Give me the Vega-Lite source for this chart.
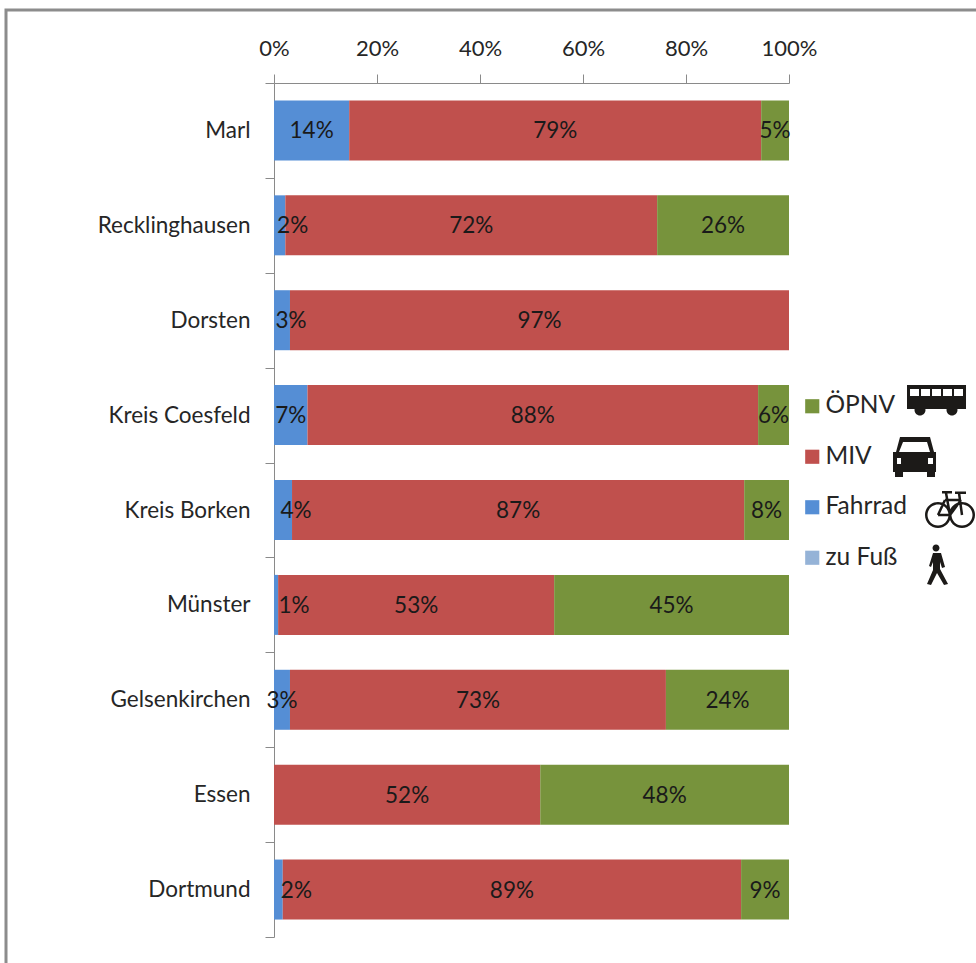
{"$schema":"https://vega.github.io/schema/vega-lite/v6.json","width":975,"height":958,"autosize":{"type":"none"},"padding":{"left":6,"top":10,"right":0,"bottom":0},"background":"white","view":{"stroke":"#8c8c8c","strokeWidth":3,"fill":"white"},"resolve":{"scale":{"y":"independent"}},"layer":[{"data":{"values":[{"city":"Marl","mode":"Fahrrad","pct":14.6,"label":"14%"},{"city":"Marl","mode":"MIV","pct":80,"label":"79%"},{"city":"Marl","mode":"ÖPNV","pct":5.4,"label":"5%"},{"city":"Recklinghausen","mode":"Fahrrad","pct":2.2,"label":"2%"},{"city":"Recklinghausen","mode":"MIV","pct":72.2,"label":"72%"},{"city":"Recklinghausen","mode":"ÖPNV","pct":25.6,"label":"26%"},{"city":"Dorsten","mode":"Fahrrad","pct":3.1,"label":"3%"},{"city":"Dorsten","mode":"MIV","pct":96.9,"label":"97%"},{"city":"Kreis Coesfeld","mode":"Fahrrad","pct":6.5,"label":"7%"},{"city":"Kreis Coesfeld","mode":"MIV","pct":87.5,"label":"88%"},{"city":"Kreis Coesfeld","mode":"ÖPNV","pct":6,"label":"6%"},{"city":"Kreis Borken","mode":"Fahrrad","pct":3.5,"label":"4%"},{"city":"Kreis Borken","mode":"MIV","pct":87.8,"label":"87%"},{"city":"Kreis Borken","mode":"ÖPNV","pct":8.7,"label":"8%"},{"city":"Münster","mode":"Fahrrad","pct":0.8,"label":"1%"},{"city":"Münster","mode":"MIV","pct":53.6,"label":"53%"},{"city":"Münster","mode":"ÖPNV","pct":45.6,"label":"45%"},{"city":"Gelsenkirchen","mode":"Fahrrad","pct":3.1,"label":"3%"},{"city":"Gelsenkirchen","mode":"MIV","pct":73,"label":"73%"},{"city":"Gelsenkirchen","mode":"ÖPNV","pct":23.9,"label":"24%"},{"city":"Essen","mode":"MIV","pct":51.7,"label":"52%"},{"city":"Essen","mode":"ÖPNV","pct":48.3,"label":"48%"},{"city":"Dortmund","mode":"Fahrrad","pct":1.7,"label":"2%"},{"city":"Dortmund","mode":"MIV","pct":89,"label":"89%"},{"city":"Dortmund","mode":"ÖPNV","pct":9.3,"label":"9%"}]},"transform":[{"stack":"pct","groupby":["city"],"sort":[{"field":"mode","order":"ascending"}],"as":["x0","x1"]},{"calculate":"(datum.x0+datum.x1)/2","as":"mid"}],"encoding":{"y":{"field":"city","type":"nominal","scale":{"type":"band","domain":["Marl","Recklinghausen","Dorsten","Kreis Coesfeld","Kreis Borken","Münster","Gelsenkirchen","Essen","Dortmund"],"range":[73,927],"paddingInner":0,"paddingOuter":0},"axis":{"orient":"left","offset":-268,"title":null,"tickBand":"extent","tickSize":9,"tickColor":"#8a8a8a","domainColor":"#8a8a8a","labelFont":"Lato","labelFontSize":22.5,"labelColor":"#262626","labelPadding":15,"grid":false}}},"layer":[{"mark":{"type":"bar","height":60},"encoding":{"x":{"field":"x0","type":"quantitative","scale":{"domain":[0,100],"range":[268,783],"nice":false},"axis":{"orient":"top","offset":-73,"title":null,"values":[0,20,40,60,80,100],"labelExpr":"datum.value + '%'","labelFlush":false,"labelOverlap":false,"tickSize":9,"tickColor":"#8a8a8a","domainColor":"#8a8a8a","labelFont":"Lato","labelFontSize":22,"labelColor":"#262626","labelPadding":14,"grid":false}},"x2":{"field":"x1"},"color":{"field":"mode","type":"nominal","scale":{"domain":["ÖPNV","MIV","Fahrrad","zu Fuß"],"range":["#77933c","#c0504d","#558ed5","#95b3d7"]},"legend":{"title":null,"orient":"none","legendX":794,"legendY":384,"symbolType":"square","symbolSize":200,"symbolStrokeWidth":0,"symbolOpacity":1,"labelFont":"Lato","labelFontSize":24.5,"labelColor":"#262626","labelOffset":1,"rowPadding":25.5}}}},{"transform":[{"filter":"!(datum.mode==='Fahrrad' && indexof(['Recklinghausen','Kreis Borken','Dorsten','Münster','Dortmund'],datum.city)>=0)"}],"mark":{"type":"text","font":"Lato","fontSize":22.5,"color":"#1a1a1a","dy":1},"encoding":{"x":{"field":"mid","type":"quantitative"},"text":{"field":"label"}}},{"transform":[{"filter":"datum.mode==='Fahrrad' && indexof(['Recklinghausen','Kreis Borken'],datum.city)>=0"}],"mark":{"type":"text","font":"Lato","fontSize":22.5,"color":"#1a1a1a","dy":1,"dx":13},"encoding":{"x":{"field":"mid","type":"quantitative"},"text":{"field":"label"}}},{"transform":[{"filter":"datum.mode==='Fahrrad' && datum.city==='Dorsten'"}],"mark":{"type":"text","font":"Lato","fontSize":22.5,"color":"#1a1a1a","dy":1,"dx":9},"encoding":{"x":{"field":"mid","type":"quantitative"},"text":{"field":"label"}}},{"transform":[{"filter":"datum.mode==='Fahrrad' && indexof(['Münster','Dortmund'],datum.city)>=0"}],"mark":{"type":"text","font":"Lato","fontSize":22.5,"color":"#1a1a1a","dy":1,"dx":18},"encoding":{"x":{"field":"mid","type":"quantitative"},"text":{"field":"label"}}}]},{"data":{"values":[{"icon":"Bus"},{"icon":"Auto"},{"icon":"Rad"},{"icon":"Fußgänger"}]},"mark":{"type":"point","filled":true,"opacity":1,"color":"#1c1a18","size":4},"encoding":{"x":{"datum":128.74},"y":{"field":"icon","type":"nominal","axis":null,"scale":{"type":"point","domain":["Bus","Auto","Rad","Fußgänger"],"range":[390,555],"padding":0}},"shape":{"field":"icon","type":"nominal","legend":null,"scale":{"domain":["Bus","Auto","Rad","Fußgänger"],"range":["M-30 -15 L29 -15 L29 9 L-30 9Z M-27 -11 L-27 -4 L-18 -4 L-18 -11Z M-16 -11 L-16 -4 L-7 -4 L-7 -11Z M-5 -11 L-5 -4 L4 -4 L4 -11Z M6 -11 L6 -4 L15 -4 L15 -11Z M17 -11 L17 -4 L26 -4 L26 -11Z M-22.5 10 a5.5 5.5 0 1 1 11 0 a5.5 5.5 0 1 1 -11 0Z M9.5 10 a5.5 5.5 0 1 1 11 0 a5.5 5.5 0 1 1 -11 0Z","M-37 -18 L-7 -18 L-3 -3 L-1 -3 L-1 17 L-2 17 L-2 22 L-10 22 L-10 17 L-34 17 L-34 22 L-42 22 L-42 17 L-44 17 L-44 -3 L-41 -3Z M-34 -13 L-38 -3 L-7 -3 L-10 -13Z M-40 3 L-40 9 L-36 9 L-36 3Z M-9 3 L-9 9 L-4 9 L-4 3Z","M-12 5 a13 13 0 1 1 26 0 a13 13 0 1 1 -26 0Z M-9.5 5 a10.5 10.5 0 1 0 21 0 a10.5 10.5 0 1 0 -21 0Z M12 5 a13 13 0 1 1 26 0 a13 13 0 1 1 -26 0Z M14.5 5 a10.5 10.5 0 1 0 21 0 a10.5 10.5 0 1 0 -21 0Z M1 3.75 L13 3.75 L13 6.25 L1 6.25Z M-0.13 4.47 L6.87 -10.53 L9.13 -9.47 L2.13 5.53Z M8 -11.25 L24 -11.25 L24 -8.75 L8 -8.75Z M25.01 -9.26 L14.01 5.74 L11.99 4.26 L22.99 -10.74Z M10.23 -17.22 L14.23 4.78 L11.77 5.22 L7.77 -16.78Z M23.24 -17.17 L26.24 4.83 L23.76 5.17 L20.76 -16.83Z M18 -18.5 L29 -18.5 L29 -16 L18 -16Z M5 -19 L15 -19 L15 -16.5 L5 -16.5Z","M-4.5 -17 a3.5 3.5 0 1 1 7 0 a3.5 3.5 0 1 1 -7 0Z M-4 -12 L4 -12 L8 2 L5 3 L3 -3 L3 4 L11 19 L7 20 L0 8 L-6 20 L-10 19 L-4 5 L-4 -3 L-6 2 L-8 1Z"]}}}}]}
